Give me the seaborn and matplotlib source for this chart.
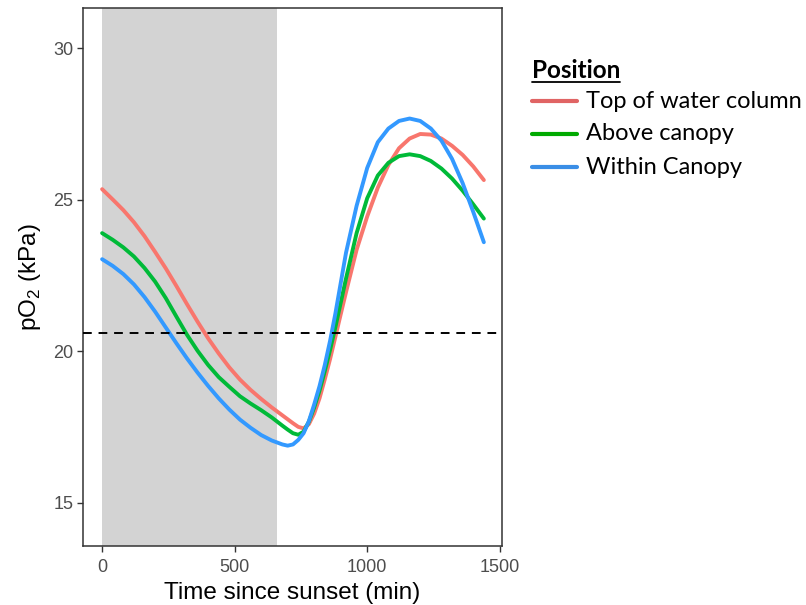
import numpy as np
import pandas as pd
import matplotlib
matplotlib.use("Agg")
import matplotlib.pyplot as plt
from matplotlib.lines import Line2D
import seaborn as sns

# ---- data ----
time_min = [0, 40, 80, 120, 160, 200, 240, 280, 320, 360, 400, 440, 480, 520, 560, 600,
            640, 680,
            700, 720, 740, 760, 780, 800, 820, 840, 860, 880, 900,
            920, 960, 1000, 1040, 1080, 1120, 1160, 1200, 1240, 1280, 1320, 1360, 1400, 1440]
top_water = [25.35, 25.01, 24.66, 24.26, 23.80, 23.28, 22.74, 22.16, 21.56, 20.98, 20.43,
             19.93, 19.47, 19.07, 18.73, 18.43, 18.15, 17.89,
             17.76, 17.63, 17.51, 17.46, 17.6, 17.95, 18.45, 19.08, 19.75, 20.48, 21.22,
             21.95, 23.35, 24.45, 25.4, 26.15, 26.7, 27.02, 27.17, 27.15, 27.02, 26.78,
             26.48, 26.1, 25.65]
above_canopy = [23.9, 23.68, 23.43, 23.13, 22.75, 22.3, 21.76, 21.15, 20.55, 20.02, 19.55,
                19.15, 18.83, 18.52, 18.28, 18.06, 17.82, 17.55,
                17.42, 17.3, 17.25, 17.35, 17.68, 18.15, 18.7, 19.35, 20.05, 20.8, 21.6,
                22.4, 23.9, 25.05, 25.8, 26.22, 26.44, 26.5, 26.44, 26.28, 26.03, 25.7,
                25.3, 24.85, 24.38]
within_canopy = [23.04, 22.82, 22.55, 22.21, 21.79, 21.31, 20.79, 20.27, 19.77, 19.3, 18.86,
                 18.45, 18.08, 17.75, 17.48, 17.24, 17.06, 16.93,
                 16.89, 16.93, 17.08, 17.3, 17.7, 18.25, 18.85, 19.55, 20.35, 21.25, 22.25,
                 23.25, 24.8, 26.05, 26.9, 27.35, 27.6, 27.68, 27.6, 27.35, 26.95, 26.35,
                 25.55, 24.6, 23.6]
positions = ["Top of water column", "Above canopy", "Within Canopy"]
night_end = 660
atmos_po2 = 20.6
x_ticks = [0, 500, 1000, 1500]
y_ticks = [15, 20, 25, 30]

line_colors = ["#F8766D", "#00BA38", "#3399FF"]
legend_colors = ["#E06464", "#00AA00", "#3A8EE6"]

df = pd.DataFrame({
    "Time": time_min * 3,
    "pO2": top_water + above_canopy + within_canopy,
    "Position": [positions[0]] * len(time_min) + [positions[1]] * len(time_min)
                + [positions[2]] * len(time_min),
})

sns.set_theme(style="white")
plt.rcParams["font.family"] = ["Liberation Sans", "DejaVu Sans"]
plt.rcParams["mathtext.fontset"] = "custom"
plt.rcParams["mathtext.rm"] = "Liberation Sans"

fig = plt.figure(figsize=(8.06, 6.05), dpi=100)
ax = fig.add_axes([0.103, 0.0975, 0.52, 0.889])

ax.axvspan(0, night_end, color="#D3D3D3", lw=0, zorder=0)
sns.lineplot(data=df, x="Time", y="pO2", hue="Position", palette=line_colors,
             hue_order=positions, lw=2.8, legend=False, ax=ax, zorder=3)
ax.axhline(atmos_po2, color="black", lw=1.4, ls=(0, (4.5, 3.5)), zorder=4)

ax.set_xlim(-72, 1509)
ax.set_ylim(13.58, 31.32)
ax.set_xticks(x_ticks)
ax.set_yticks(y_ticks)
ax.tick_params(axis="both", which="both", direction="out", length=4, width=1,
               color="#333333", labelcolor="#4D4D4D", labelsize=13, pad=3,
               bottom=True, left=True)
ax.tick_params(axis="x", pad=5)
for s in ax.spines.values():
    s.set_color("#333333")
    s.set_linewidth(1.1)
ax.set_xlabel("Time since sunset (min)", fontsize=17.5, color="black", labelpad=5)
ax.set_ylabel(r"pO$_\mathregular{2}$ (kPa)", fontsize=17.5, color="black", labelpad=7)

# ---- legend (manual, outside on right) ----
W, H = 806, 605
def fx(px): return px / W
def fy(py): return 1 - py / H

leg_font = ["Lato", "DejaVu Sans"]
title = fig.text(fx(532), fy(70), "Position", fontsize=17.5, fontweight="bold",
                 family=leg_font, va="center", ha="left", color="black")
fig.canvas.draw()
bb = title.get_window_extent()
fig.add_artist(Line2D([bb.x0 / W, bb.x1 / W], [fy(82), fy(82)], color="black", lw=1.3,
                      transform=fig.transFigure))
rows_y = [101, 134, 167]
for name, col, ry in zip(positions, legend_colors, rows_y):
    fig.add_artist(Line2D([fx(532), fx(577)], [fy(ry), fy(ry)], color=col, lw=3,
                          transform=fig.transFigure))
    fig.text(fx(586), fy(ry), name, fontsize=17, family=leg_font,
             va="center", ha="left", color="black")

fig.savefig("out.png", dpi=100)
